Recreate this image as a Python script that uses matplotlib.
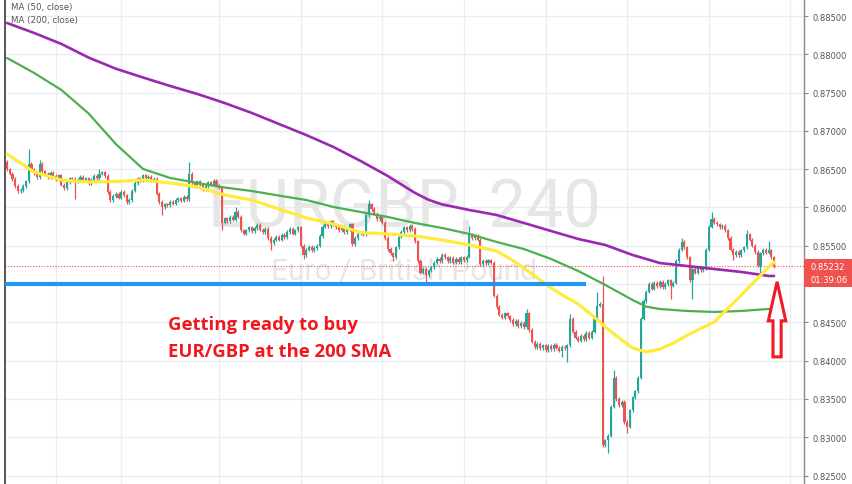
import matplotlib
matplotlib.use("Agg")
import matplotlib.pyplot as plt
import matplotlib.transforms as mtransforms
from matplotlib.patches import Polygon, Rectangle

# ---------------- data ----------------
first_open = 0.8660
closes = [
    0.8650, 0.8644, 0.8637, 0.8628, 0.8621, 0.8623, 0.8628, 0.8634, 0.8657, 0.8650,
    0.8645, 0.8640, 0.8657, 0.8647, 0.8644, 0.8640, 0.8645, 0.8641, 0.8637, 0.8642,
    0.8630, 0.8625, 0.8633, 0.8638, 0.8637, 0.8634, 0.8636, 0.8640, 0.8635, 0.8638,
    0.8632, 0.8636, 0.8641, 0.8638, 0.8644, 0.8646, 0.8641, 0.8620, 0.8610, 0.8615,
    0.8618, 0.8613, 0.8620, 0.8616, 0.8607, 0.8610, 0.8622, 0.8632, 0.8638, 0.8636,
    0.8642, 0.8638, 0.8640, 0.8635, 0.8637, 0.8618, 0.8607, 0.8600, 0.8604, 0.8603,
    0.8607, 0.8605, 0.8610, 0.8612, 0.8609, 0.8614, 0.8611, 0.8644, 0.8632, 0.8628,
    0.8634, 0.8630, 0.8624, 0.8628, 0.8633, 0.8630, 0.8635, 0.8629, 0.8626, 0.8580,
    0.8586, 0.8582, 0.8588, 0.8584, 0.8594, 0.8588, 0.8570, 0.8566, 0.8570, 0.8574,
    0.8569, 0.8573, 0.8577, 0.8571, 0.8568, 0.8572, 0.8560, 0.8553, 0.8558, 0.8562,
    0.8558, 0.8564, 0.8561, 0.8568, 0.8572, 0.8566, 0.8570, 0.8574, 0.8550, 0.8538,
    0.8545, 0.8549, 0.8544, 0.8547, 0.8550, 0.8563, 0.8575, 0.8580, 0.8576, 0.8582,
    0.8578, 0.8574, 0.8570, 0.8575, 0.8568, 0.8572, 0.8578, 0.8552, 0.8560, 0.8566,
    0.8567, 0.8565, 0.8590, 0.8604, 0.8598, 0.8592, 0.8585, 0.8588, 0.8580, 0.8560,
    0.8546, 0.8540, 0.8535, 0.8548, 0.8562, 0.8568, 0.8574, 0.8570, 0.8576, 0.8572,
    0.8556, 0.8530, 0.8515, 0.8520, 0.8512, 0.8518, 0.8522, 0.8528, 0.8533, 0.8530,
    0.8538, 0.8535, 0.8530, 0.8534, 0.8528, 0.8533, 0.8529, 0.8535, 0.8531, 0.8536,
    0.8565, 0.8560, 0.8563, 0.8558, 0.8526, 0.8530, 0.8527, 0.8531, 0.8528, 0.8485,
    0.8470, 0.8460, 0.8456, 0.8462, 0.8458, 0.8453, 0.8448, 0.8452, 0.8445, 0.8449,
    0.8444, 0.8462, 0.8440, 0.8425, 0.8418, 0.8422, 0.8416, 0.8420, 0.8414, 0.8419,
    0.8415, 0.8421, 0.8417, 0.8413, 0.8418, 0.8416, 0.8420, 0.8455, 0.8438, 0.8430,
    0.8426, 0.8432, 0.8428, 0.8436, 0.8430, 0.8438, 0.8455, 0.8472, 0.8474, 0.8290,
    0.8296, 0.8302, 0.8340, 0.8378, 0.8350, 0.8342, 0.8346, 0.8320, 0.8314, 0.8335,
    0.8352, 0.8360, 0.8378, 0.8455, 0.8478, 0.8490, 0.8500, 0.8494, 0.8502, 0.8497,
    0.8503, 0.8496, 0.8500, 0.8505, 0.8498, 0.8502, 0.8530, 0.8545, 0.8555, 0.8548,
    0.8535, 0.8505, 0.8520, 0.8515, 0.8522, 0.8518, 0.8520, 0.8545, 0.8575, 0.8585,
    0.8580, 0.8578, 0.8574, 0.8576, 0.8570, 0.8560, 0.8545, 0.8538, 0.8542, 0.8538,
    0.8544, 0.8548, 0.8565, 0.8558, 0.8550, 0.8542, 0.8524, 0.8540, 0.8545, 0.8541,
    0.8544, 0.8535, 0.85232,
]
wick_high = {8: 0.8676, 12: 0.8662, 34: 0.8650, 67: 0.8659, 84: 0.8600, 133: 0.8610,
             170: 0.8576, 191: 0.8468, 207: 0.8461, 217: 0.8490, 219: 0.8511,
             223: 0.8388, 248: 0.8560, 259: 0.8594, 272: 0.8570, 280: 0.8556}
wick_low = {25: 0.8611, 57: 0.8590, 79: 0.8570, 97: 0.8545, 109: 0.8533, 142: 0.8530,
            154: 0.8502, 204: 0.8405, 206: 0.8398, 221: 0.8280, 228: 0.8305,
            244: 0.8481, 252: 0.8481, 267: 0.8532, 277: 0.8513}
WICK = 0.00022

ma_slow_idx = [0, 10, 20, 30, 40, 50, 60, 70, 80, 90, 100, 110, 120, 130, 140, 145,
               150, 155, 160, 170, 180, 190, 200, 210, 220, 230, 240, 250, 260, 270,
               280, 282]
ma200 = [0.88409, 0.88278, 0.88135, 0.87957, 0.87812, 0.87697, 0.87586, 0.87482,
         0.87364, 0.87234, 0.87090, 0.86946, 0.86790, 0.86607, 0.86411, 0.86300,
         0.86190, 0.86100, 0.86040, 0.85967, 0.85902, 0.85798, 0.85693, 0.85589,
         0.85510, 0.85380, 0.85275, 0.85236, 0.85197, 0.85158, 0.85106, 0.85106]
ma50_idx = [0, 10, 20, 30, 40, 50, 60, 70, 80, 90, 100, 110, 120, 130, 140, 150,
            160, 170, 180, 190, 200, 210, 220, 230, 235, 240, 250, 260, 270, 280, 282]
ma50 = [0.87952, 0.87756, 0.87534, 0.87227, 0.86829, 0.86503, 0.86385, 0.86320,
        0.86261, 0.86215, 0.86155, 0.86098, 0.86007, 0.85941, 0.85876, 0.85798,
        0.85732, 0.85654, 0.85550, 0.85458, 0.85328, 0.85171, 0.84988, 0.84792,
        0.84705, 0.84675, 0.84649, 0.84636, 0.84649, 0.84675, 0.84675]
ma_fast_idx = [0, 10, 20, 30, 40, 50, 60, 70, 80, 90, 100, 110, 120, 130, 140, 150,
               160, 170, 180, 185, 190, 195, 200, 205, 210, 215, 220, 225, 230, 235,
               240, 245, 250, 255, 260, 265, 270, 275, 280, 282]
ma_fast = [0.86698, 0.86463, 0.86359, 0.86333, 0.86339, 0.86359, 0.86320, 0.86268,
           0.86163, 0.86098, 0.85980, 0.85863, 0.85785, 0.85674, 0.85654, 0.85628,
           0.85576, 0.85510, 0.85432, 0.85330, 0.85210, 0.85080, 0.84949, 0.84840,
           0.84740, 0.84597, 0.84440, 0.84296, 0.84166, 0.84114, 0.84150, 0.84230,
           0.84330, 0.84420, 0.84505, 0.84680, 0.84858, 0.85041, 0.85223, 0.85288]

price_ticks = [0.825, 0.830, 0.835, 0.840, 0.845, 0.850, 0.855, 0.860,
               0.865, 0.870, 0.875, 0.880, 0.885]
tick_labels = ["0.82500", "0.83000", "0.83500", "0.84000", "0.84500", "",
               "0.85500", "0.86000", "0.86500", "0.87000", "0.87500", "0.88000",
               "0.88500"]
grid_idx = [18, 42, 78, 108, 138, 168, 198, 228, 258, 288]
support_level = 0.8500
support_end = 213
last_price = 0.85232
last_label = "0.85232"
countdown = "01:39:06"
arrow_x = 283.1
arrow_tip, arrow_neck, arrow_base = 0.8503, 0.8452, 0.8405

# ---------------- style ----------------
UP, DOWN = "#26a69a", "#ef5350"
W, H, DPI = 852, 485, 100
fig = plt.figure(figsize=(W / DPI, H / DPI), dpi=DPI)
fig.patch.set_facecolor("white")
ax = fig.add_axes([5 / W, 0, (804 - 5) / W, 1])
ax.set_xlim(-0.74, 293.0)
ax.set_ylim(0.82390, 0.88722)

# grid
for g in grid_idx:
    ax.axvline(g, color="#e9eef2", lw=1, zorder=0)
for p in price_ticks:
    ax.axhline(p, color="#e9eef2", lw=1, zorder=0)

# watermark
ax.text(0.5, 1 - 227 / H, "EURGBP, 240", transform=ax.transAxes, ha="center",
        va="baseline", fontsize=48, family="Roboto", color="#e6e6e6", zorder=1)
ax.text(0.5, 1 - 280 / H, "Euro / British Pound", transform=ax.transAxes, ha="center",
        va="baseline", fontsize=21.5, family="Roboto", color="#e6e6e6", zorder=1)

# candles
opens = [first_open] + closes[:-1]
for i, (o, c) in enumerate(zip(opens, closes)):
    col = UP if c >= o else DOWN
    hi = wick_high.get(i, max(o, c) + WICK)
    lo = wick_low.get(i, min(o, c) - WICK)
    ax.vlines(i, lo, hi, color=col, lw=0.9, zorder=3)
    ax.bar(i, max(abs(c - o), 0.00005), bottom=min(o, c), width=0.78, color=col,
           linewidth=0, zorder=3)

# moving averages
ax.plot(ma_slow_idx, ma200, color="#9c27b0", lw=1.9, zorder=4,
        solid_capstyle="round", solid_joinstyle="round")
ax.plot(ma50_idx, ma50, color="#4caf50", lw=1.6, zorder=4,
        solid_capstyle="round", solid_joinstyle="round")
ax.plot(ma_fast_idx, ma_fast, color="#ffeb3b", lw=2.3, zorder=4,
        solid_capstyle="round", solid_joinstyle="round")

# support line
ax.plot([-0.74, support_end], [support_level, support_level], color="#2196f3",
        lw=3.0, zorder=5, solid_capstyle="butt")

# last price line
ax.axhline(last_price, color=DOWN, lw=0.8, ls=(0, (1, 1.5)), zorder=2)

# arrow
arrow = Polygon([(arrow_x, arrow_tip), (arrow_x + 3.2, arrow_neck), (arrow_x + 1.5, arrow_neck),
                 (arrow_x + 1.5, arrow_base), (arrow_x - 1.5, arrow_base),
                 (arrow_x - 1.5, arrow_neck), (arrow_x - 3.2, arrow_neck)],
                closed=True, fc="white", ec="#ee1c25", lw=2.2, zorder=6, joinstyle="miter")
ax.add_patch(arrow)

# annotation text
fig.text(168 / W, 1 - 330 / H, "Getting ready to buy", fontsize=13.3,
         fontweight="bold", family="Open Sans", color="#f0181e", va="baseline")
fig.text(168 / W, 1 - 357 / H, "EUR/GBP at the 200 SMA", fontsize=13.3,
         fontweight="bold", family="Open Sans", color="#f0181e", va="baseline")

# legend labels
fig.text(11 / W, 1 - 10 / H, "MA (50, close)", fontsize=6.2, color="#555555", va="baseline")
fig.text(11 / W, 1 - 23 / H, "MA (200, close)", fontsize=6.2, color="#555555", va="baseline")

# axes styling
ax.set_xticks([])
ax.yaxis.tick_right()
ax.set_yticks(price_ticks)
ax.set_yticklabels(tick_labels)
ax.tick_params(axis="y", direction="out", length=3, width=0.8, color="#888888",
               labelsize=6, labelcolor="#555555", pad=3)
for s in ("top", "bottom"):
    ax.spines[s].set_visible(False)
ax.spines["right"].set_color("#888888")
ax.spines["right"].set_linewidth(1)
ax.spines["left"].set_color("#555555")
ax.spines["left"].set_linewidth(1.4)

# price label boxes on the scale
blend = mtransforms.blended_transform_factory(ax.transAxes, ax.transData)
box_h = 0.00180
ax.add_patch(Rectangle((1.0, last_price - 0.00085), 0.07, box_h, transform=blend,
                       fc="#ef5350", ec="none", clip_on=False, zorder=7))
ax.add_patch(Rectangle((1.0, last_price - 0.00085 - box_h), 0.07, box_h, transform=blend,
                       fc="#ef5350", ec="none", clip_on=False, zorder=7))
ax.text(1.0 + 6 / 799, last_price, last_label, transform=blend, fontsize=6,
        color="white", va="center", ha="left", zorder=8, clip_on=False)
ax.text(1.0 + 6 / 799, last_price - 0.00085 - box_h / 2, countdown, transform=blend,
        fontsize=6, color="white", va="center", ha="left", zorder=8, clip_on=False)

fig.savefig("out.png", dpi=DPI)
